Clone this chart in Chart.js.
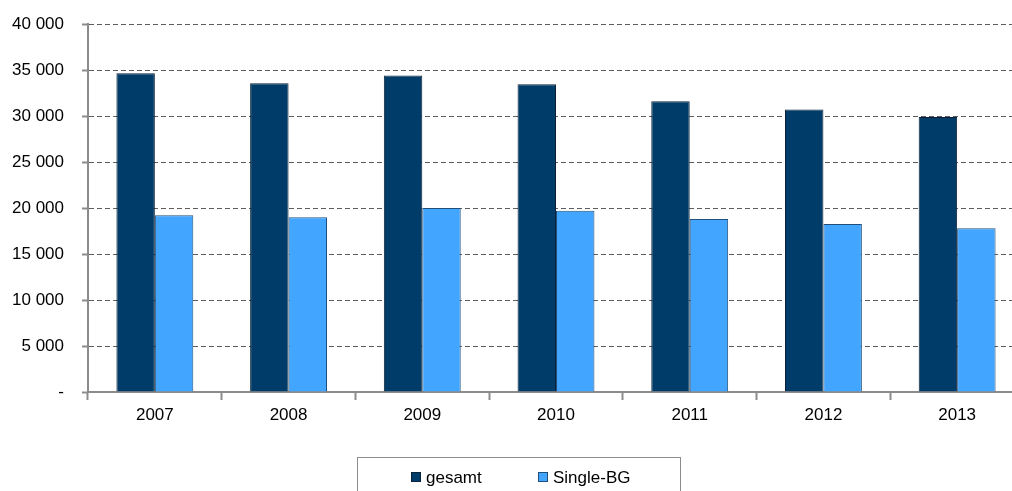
<!DOCTYPE html>
<html>
<head>
<meta charset="utf-8">
<script src="https://cdn.jsdelivr.net/npm/chart.js@4/dist/chart.umd.min.js"></script>
<style>
  html, body { margin: 0; padding: 0; background: #fff; overflow: hidden; }
  canvas { display: block; }
</style>
</head>
<body>
<canvas id="chart" width="1030" height="491"></canvas>
<script>
const years = ["2007", "2008", "2009", "2010", "2011", "2012", "2013"];
const gesamt = [34650, 33550, 34400, 33450, 31600, 30700, 29900];
const singleBG = [19200, 19000, 20000, 19700, 18800, 18250, 17800];
const seriesNames = ["gesamt", "Single-BG"];

const FONT = "'Liberation Sans', Arial, sans-serif";

/* Boxed legend under the plot */
const boxLegend = {
    id: "boxLegend",
    afterDraw(chart) {
        const ctx = chart.ctx;
        ctx.save();
        ctx.strokeStyle = "#8c8c8c";
        ctx.lineWidth = 1;
        ctx.strokeRect(357.5, 457.5, 323, 60);

        const itemX = [411, 538];
        ctx.font = "17px " + FONT;
        ctx.textBaseline = "middle";
        chart.data.datasets.forEach((ds, i) => {
            ctx.fillStyle = ds.backgroundColor;
            ctx.fillRect(itemX[i], 472, 10, 10);
            ctx.strokeStyle = ds.borderColor;
            ctx.strokeRect(itemX[i] + 0.5, 472.5, 9, 9);
            ctx.fillStyle = "#000";
            ctx.fillText(ds.label, itemX[i] + 15, 478);
        });
        ctx.restore();
    }
};

new Chart(document.getElementById("chart"), {
    type: "bar",
    data: {
        labels: years,
        datasets: [{
            label: seriesNames[0],
            data: gesamt,
            backgroundColor: "#003c69",
            borderColor: "#0b2238",
            borderWidth: 1
        }, {
            label: seriesNames[1],
            data: singleBG,
            backgroundColor: "#42a5ff",
            borderColor: "#1f4f7a",
            borderWidth: 1
        }]
    },
    options: {
        responsive: false,
        devicePixelRatio: 1,
        animation: false,
        layout: { padding: { top: 24, right: 6, left: 0, bottom: 0 } },
        datasets: { bar: { categoryPercentage: 0.575, barPercentage: 1 } },
        plugins: {
            legend: { display: false },
            tooltip: { enabled: false }
        },
        scales: {
            x: {
                grid: {
                    drawOnChartArea: false,
                    drawTicks: true,
                    tickLength: 8,
                    tickColor: "#8c8c8c",
                    tickWidth: 2
                },
                border: { color: "#8c8c8c", width: 2 },
                ticks: {
                    color: "#000",
                    font: { family: FONT, size: 17 },
                    padding: 5
                },
                afterFit: s => { s.height = 99; }
            },
            y: {
                min: 0,
                max: 40000,
                ticks: {
                    stepSize: 5000,
                    color: "#000",
                    font: { family: FONT, size: 17 },
                    padding: 18,
                    callback: v => v === 0 ? "-" : String(v).replace(/\B(?=(\d{3})+(?!\d))/g, " ")
                },
                grid: {
                    color: "#5e5e5e",
                    lineWidth: 1,
                    tickLength: 6,
                    tickColor: "#8c8c8c",
                    tickWidth: 2,
                    tickBorderDash: []
                },
                border: { color: "#8c8c8c", width: 2, dash: [5, 3] },
                afterFit: s => {
                    s.width = 88;
                    s.paddingTop = 0;
                    s.paddingBottom = 0;
                }
            }
        }
    },
    plugins: [boxLegend]
});
</script>
</body>
</html>
